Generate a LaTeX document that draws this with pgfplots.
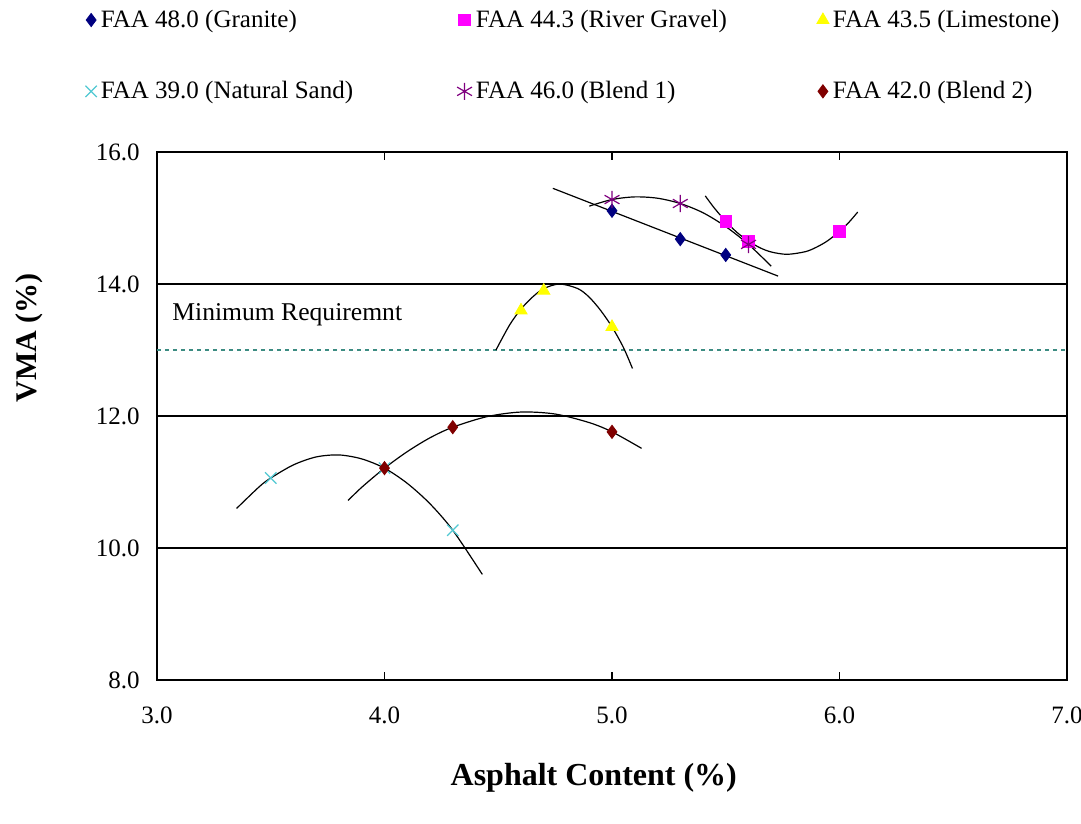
\documentclass[border=0pt]{standalone}
\usepackage{fontspec}
\setmainfont{Liberation Serif}
\usepackage{pgfplots}
\pgfplotsset{compat=1.18}
\definecolor{granite}{RGB}{0,0,128}
\definecolor{gravel}{RGB}{255,0,255}
\definecolor{limest}{RGB}{255,255,0}
\definecolor{sand}{RGB}{80,200,210}
\definecolor{blendone}{RGB}{128,0,128}
\definecolor{blendtwo}{RGB}{128,0,0}
\definecolor{minline}{RGB}{60,140,130}
\begin{document}
\begin{tikzpicture}
\begin{axis}[
  scale only axis, width=455pt, height=264pt,
  xmin=3, xmax=7, ymin=8, ymax=16,
  xtick={3,4,5,6,7}, ytick={8,10,12,14,16},
  ymajorgrids, grid style={black, line width=0.7pt},
  axis line style={black, line width=0.7pt},
  tick align=inside, major tick length=4pt,
  xtick style={black, line width=0.6pt},
  ytick style={draw=none},
  /pgf/number format/assume math mode=true,
  /pgf/number format/.cd, fixed, fixed zerofill, precision=1, /pgfplots/.cd,
  tick label style={font=\fontsize{12.5}{14}\selectfont},
  xticklabel style={anchor=center, yshift=-17.5pt},
  yticklabel style={anchor=east, inner sep=0pt, xshift=-8.5pt},
  xlabel={Asphalt Content (\%)},
  ylabel={VMA (\%)},
  xlabel style={font=\fontsize{16}{18}\selectfont\bfseries, at={(axis description cs:0.48,-0.186)}, anchor=center},
  ylabel style={font=\fontsize{15}{17}\selectfont\bfseries, at={(axis description cs:-0.1407,0.648)}, anchor=center},
  legend columns=3,
  legend cell align=left,
  legend image code/.code={\draw[mark repeat=2,mark phase=2,#1] plot coordinates {(0pt,0pt) (4pt,0pt) (8pt,0pt)};},
  legend style={draw=none, fill=none, inner sep=0pt,
    at={(axis description cs:-0.079,1.2776)}, anchor=north west,
    font=\fontsize{12.5}{14}\selectfont, row sep=21.5pt,
    /tikz/column 2/.style={column sep=50pt},
    /tikz/column 4/.style={column sep=43pt}},
]
% data points
\addplot[only marks, mark=diamond*, mark size=3.3pt, color=granite] coordinates {(5.0,15.11) (5.3,14.68) (5.5,14.44)};
\addlegendentry{FAA 48.0 (Granite)}
\addplot[only marks, mark=square*, mark size=2.9pt, color=gravel] coordinates {(5.5,14.95) (5.6,14.65) (6.0,14.8)};
\addlegendentry{FAA 44.3 (River Gravel)}
\addplot[only marks, mark=triangle*, mark size=3.5pt, color=limest] coordinates {(4.6,13.6) (4.7,13.9) (5.0,13.35)};
\addlegendentry{FAA 43.5 (Limestone)}
\addplot[only marks, mark=x, mark size=4pt, color=sand, line width=0.6pt] coordinates {(3.5,11.06) (4.0,11.21) (4.3,10.27)};
\addlegendentry{FAA 39.0 (Natural Sand)}
\addplot[only marks, mark=asterisk, mark size=4.3pt, color=blendone, line width=0.6pt] coordinates {(5.0,15.28) (5.3,15.22) (5.6,14.6)};
\addlegendentry{FAA 46.0 (Blend 1)}
\addplot[only marks, mark=diamond*, mark size=3.3pt, color=blendtwo] coordinates {(4.0,11.21) (4.3,11.83) (5.0,11.76)};
\addlegendentry{FAA 42.0 (Blend 2)}
% minimum requirement
\addplot[forget plot, minline, line width=0.7pt, dash pattern=on 1.8pt off 2.2pt] coordinates {(3,13) (7,13)};
% trend lines
\addplot[forget plot, black, line width=0.6pt] coordinates {(4.74,15.45) (5.73,14.12)};
\addplot[forget plot, black, line width=0.6pt, smooth] coordinates {(5.41,15.335) (5.45,15.15) (5.5,14.95) (5.55,14.78) (5.6,14.65) (5.65,14.55) (5.7,14.485) (5.77,14.45) (5.85,14.49) (5.9,14.56) (5.95,14.66) (6.0,14.8) (6.04,14.93) (6.08,15.09)};
\addplot[forget plot, black, line width=0.6pt, smooth] coordinates {(4.49,13.0) (4.55,13.38) (4.6,13.62) (4.65,13.8) (4.7,13.93) (4.77,14.0) (4.85,13.93) (4.9,13.8) (4.95,13.6) (5.0,13.35) (5.05,13.04) (5.09,12.72)};
\addplot[forget plot, black, line width=0.6pt, smooth] coordinates {(3.35,10.6) (3.45,10.93) (3.5,11.06) (3.6,11.26) (3.7,11.38) (3.8,11.41) (3.9,11.35) (4.0,11.21) (4.1,10.98) (4.2,10.67) (4.3,10.27) (4.43,9.6)};
\addplot[forget plot, black, line width=0.6pt, smooth] coordinates {(4.9,15.18) (5.0,15.28) (5.1,15.32) (5.2,15.3) (5.3,15.22) (5.4,15.08) (5.5,14.87) (5.6,14.6) (5.7,14.27)};
\addplot[forget plot, black, line width=0.6pt, smooth] coordinates {(3.84,10.72) (3.9,10.92) (4.0,11.21) (4.1,11.46) (4.2,11.67) (4.3,11.83) (4.45,11.99) (4.6,12.06) (4.75,12.03) (4.9,11.9) (5.0,11.76) (5.13,11.51)};
\node[anchor=west, inner sep=0pt, font=\fontsize{12.8}{14}\selectfont] at (axis cs:3.066,13.53) {Minimum Requiremnt};
\end{axis}
\pgfresetboundingbox
\useasboundingbox ([xshift=-78.5pt,yshift=-72pt]current axis.south west) rectangle ([xshift=462pt,yshift=340pt]current axis.south west);
\end{tikzpicture}
\end{document}
